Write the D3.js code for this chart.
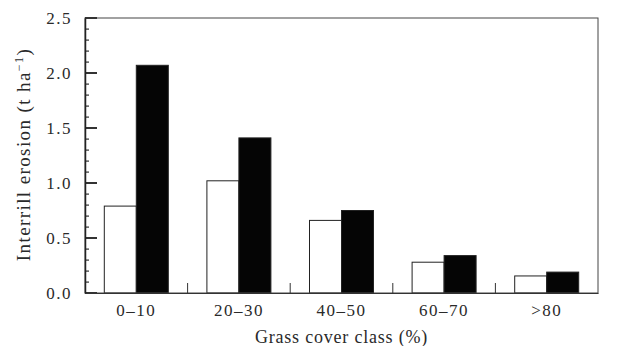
<!DOCTYPE html>
<html>
<head>
<meta charset="utf-8">
<script src="https://cdn.jsdelivr.net/npm/d3@7"></script>
<style>
  body { margin: 0; background: #fff; }
  text { font-family: 'Liberation Serif', 'DejaVu Serif', serif; fill: #2a2a2a; }
</style>
</head>
<body>
<div id="chart"></div>
<script>
const WIDTH = 630;
const HEIGHT = 346;

const margin = { top: 18, right: 32, bottom: 53, left: 85 };

// data
const categories = ['0\u201310', '20\u201330', '40\u201350', '60\u201370', '>80'];
const whiteValues = [0.79, 1.02, 0.66, 0.28, 0.155];
const blackValues = [2.07, 1.41, 0.75, 0.34, 0.19];
const yTicks = [0, 0.5, 1.0, 1.5, 2.0, 2.5];

const w = WIDTH - margin.left - margin.right;
const h = HEIGHT - margin.top - margin.bottom;

const svg = d3
  .select('#chart')
  .append('svg')
  .attr('width', WIDTH)
  .attr('height', HEIGHT)
  .append('g')
  .attr('transform', `translate(${margin.left}, ${margin.top})`);

const x = d3.scaleBand().domain(categories).range([0, w]);
const inner = d3.scaleBand().domain(['w', 'b']).range([0, 64]);
const y = d3.scaleLinear().domain([0, 2.5]).range([h, 0]);

// bars
const groups = svg
  .selectAll('g.grp')
  .data(categories)
  .enter()
  .append('g')
  .attr('class', 'grp')
  .attr('transform', (d) => `translate(${x(d) + x.bandwidth() / 2 - 32}, 0)`);

groups
  .append('rect')
  .attr('x', inner('w'))
  .attr('width', inner.bandwidth())
  .attr('y', (d, i) => y(whiteValues[i]))
  .attr('height', (d, i) => h - y(whiteValues[i]))
  .attr('fill', '#fff')
  .attr('stroke', '#222')
  .attr('stroke-width', 1);

groups
  .append('rect')
  .attr('x', inner('b'))
  .attr('width', inner.bandwidth())
  .attr('y', (d, i) => y(blackValues[i]))
  .attr('height', (d, i) => h - y(blackValues[i]))
  .attr('fill', '#050505')
  .attr('stroke', '#222')
  .attr('stroke-width', 1);

// frame
svg
  .append('rect')
  .attr('x', 0)
  .attr('y', 0)
  .attr('width', w)
  .attr('height', h)
  .attr('fill', 'none')
  .attr('stroke', '#444')
  .attr('stroke-width', 1);

// y axis ticks, drawn inward: minor every 0.1, major every 0.5
const minorTicks = d3.range(0, 26).map((i) => i / 10);
svg
  .append('g')
  .selectAll('rect')
  .data(minorTicks)
  .enter()
  .append('rect')
  .attr('x', 0)
  .attr('y', (d, i) => Math.round(y(d)) - (i % 5 === 0 ? 1 : 0.5))
  .attr('width', (d, i) => (i % 5 === 0 ? 12 : 4))
  .attr('height', (d, i) => (i % 5 === 0 ? 2 : 1.2))
  .attr('fill', '#333');

svg
  .append('g')
  .call(d3.axisLeft(y).tickValues(yTicks).tickSize(0).tickPadding(13).tickFormat(d3.format('.1f')))
  .call((g) => g.select('.domain').attr('stroke', '#222').attr('stroke-width', 1.5))
  .call((g) =>
    g
      .selectAll('text')
      .attr('font-size', 17)
      .attr('letter-spacing', 1.5)
      .attr('font-family', 'Liberation Serif')
      .attr('fill', '#2a2a2a')
  );

// x axis: small ticks between groups, pointing up
svg
  .append('g')
  .attr('transform', `translate(0, ${h})`)
  .call(d3.axisBottom(x).tickSize(0).tickPadding(11))
  .call((g) => g.select('.domain').attr('stroke', '#333'))
  .call((g) =>
    g
      .selectAll('text')
      .attr('font-size', 17)
      .attr('letter-spacing', 1.5)
      .attr('font-family', 'Liberation Serif')
      .attr('fill', '#2a2a2a')
  );

svg
  .append('g')
  .selectAll('line')
  .data(categories.slice(1))
  .enter()
  .append('line')
  .attr('x1', (d) => x(d))
  .attr('x2', (d) => x(d))
  .attr('y1', h)
  .attr('y2', h - 10)
  .attr('stroke', '#333');

// axis titles
svg
  .append('text')
  .attr('x', w / 2)
  .attr('y', h + 50)
  .attr('text-anchor', 'middle')
  .attr('font-size', 18)
  .attr('letter-spacing', 0.8)
  .text('Grass cover class (%)');

const yt = svg
  .append('text')
  .attr('transform', `translate(${-55}, ${h / 2 - 1}) rotate(-90)`)
  .attr('text-anchor', 'middle')
  .attr('font-size', 19)
  .attr('letter-spacing', 1.4);
yt.append('tspan').text('Interrill erosion (t ha');
yt.append('tspan').attr('dy', -7).attr('font-size', 12).text('\u22121');
yt.append('tspan').attr('dy', 7).text(')');
</script>
</body>
</html>
